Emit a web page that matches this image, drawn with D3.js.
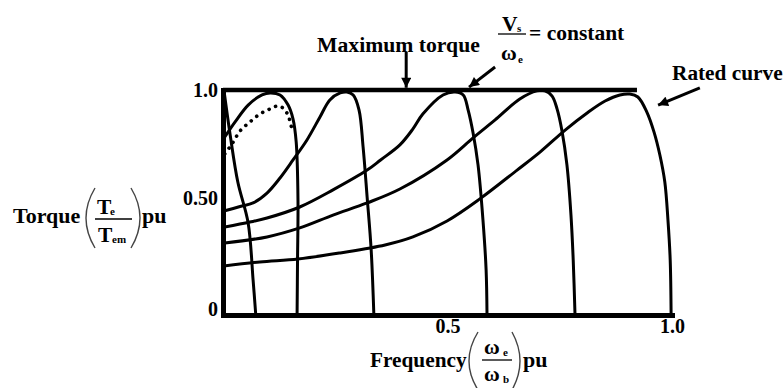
<!DOCTYPE html>
<html>
<head>
<meta charset="utf-8">
<script src="https://cdn.jsdelivr.net/npm/d3@7"></script>
<style>
  body { margin: 0; background: #fff; }
</style>
</head>
<body>
<div id="vis"></div>
<script>
// Torque-speed curves of an induction motor with Vs/we held constant
// values are [frequency pu, torque pu]

const CURVE_1 = [[0.002, 1.0], [0.016, 0.80], [0.033, 0.591], [0.056, 0.409],
                 [0.067, 0.156], [0.073, 0]];

const CURVE_2 = [[0.004, 0.791], [0.027, 0.858], [0.056, 0.933], [0.087, 0.978],
                 [0.105, 0.987], [0.127, 0.978], [0.145, 0.933], [0.156, 0.871],
                 [0.163, 0.769], [0.167, 0.511], [0.166, 0.244], [0.165, 0]];

// dotted one (stator drop not compensated)
const CURVE_2_DOTTED = [[0.004, 0.716], [0.020, 0.760], [0.038, 0.818], [0.060, 0.858],
                        [0.082, 0.893], [0.105, 0.916], [0.122, 0.929], [0.136, 0.916],
                        [0.147, 0.876], [0.154, 0.818]];

const CURVE_3 = [[0.002, 0.462], [0.038, 0.482], [0.067, 0.498], [0.098, 0.542],
                 [0.127, 0.609], [0.156, 0.689], [0.187, 0.778], [0.216, 0.880],
                 [0.238, 0.956], [0.261, 0.987], [0.276, 0.991], [0.290, 0.978],
                 [0.303, 0.911], [0.312, 0.747], [0.321, 0.524], [0.330, 0.289],
                 [0.336, 0]];

const CURVE_4 = [[0.004, 0.391], [0.060, 0.413], [0.098, 0.431], [0.171, 0.480],
                 [0.245, 0.556], [0.321, 0.644], [0.351, 0.689], [0.394, 0.756],
                 [0.423, 0.827], [0.445, 0.893], [0.490, 0.978], [0.517, 0.991],
                 [0.535, 0.978], [0.546, 0.911], [0.557, 0.809], [0.568, 0.667],
                 [0.579, 0.422], [0.586, 0.2], [0.588, 0]];

const CURVE_5 = [[0.004, 0.320], [0.098, 0.347], [0.171, 0.387], [0.245, 0.444],
                 [0.321, 0.498], [0.394, 0.560], [0.499, 0.689], [0.557, 0.787],
                 [0.606, 0.867], [0.661, 0.960], [0.699, 0.996], [0.717, 0.996],
                 [0.733, 0.973], [0.744, 0.916], [0.755, 0.818], [0.766, 0.667],
                 [0.775, 0.444], [0.780, 0.244], [0.784, 0]];

const RATED_CURVE = [[0.002, 0.218], [0.082, 0.236], [0.167, 0.249], [0.261, 0.276],
                     [0.361, 0.311], [0.423, 0.347], [0.499, 0.418], [0.572, 0.516],
                     [0.655, 0.644], [0.706, 0.724], [0.762, 0.822], [0.811, 0.898],
                     [0.851, 0.951], [0.884, 0.978], [0.906, 0.982], [0.924, 0.969],
                     [0.944, 0.902], [0.960, 0.813], [0.973, 0.711], [0.984, 0.591],
                     [0.991, 0.422], [0.996, 0.244], [0.998, 0]];

const MAX_TORQUE = [[0, 1.0], [0.922, 1.0]];

const X_TICKS = [0.5, 1.0];
const X_TICK_LABELS = ["0.5", "1.0"];
const Y_TICKS = [0, 0.5, 1.0];
const Y_TICK_LABELS = ["0", "0.50", "1.0"];

// arrows: [from, to] in data units
const ARROW_MAX = [[0.408, 1.17], [0.408, 1.01]];
const ARROW_VS = [[0.606, 1.102], [0.548, 1.013]];
const ARROW_RATED = [[1.062, 1.009], [0.969, 0.933]];

// frame
const FRAME_WIDTH = 783;
const FRAME_HEIGHT = 388;
const PLOT = {left: 223, right: 672, top: 90, bottom: 315};
const SERIF = "'Times New Roman', Times, Tinos, 'Liberation Serif', 'Noto Serif', 'DejaVu Serif', FreeSerif, serif";

const SVG = d3.select("#vis")
              .append("svg")
                .attr("width", FRAME_WIDTH)
                .attr("height", FRAME_HEIGHT)
                .style("font-family", SERIF)
                .style("font-weight", "bold");

const X_SCALE = d3.scaleLinear().domain([0, 1]).range([PLOT.left, PLOT.right]);
const Y_SCALE = d3.scaleLinear().domain([0, 1]).range([PLOT.bottom, PLOT.top]);

// arrowhead
SVG.append("defs")
   .append("marker")
     .attr("id", "head")
     .attr("markerUnits", "userSpaceOnUse")
     .attr("viewBox", "0 0 10 10")
     .attr("refX", 10)
     .attr("refY", 5)
     .attr("markerWidth", 11)
     .attr("markerHeight", 10)
     .attr("orient", "auto")
   .append("path")
     .attr("d", "M0,0L10,5L0,10z")
     .attr("fill", "#000");

const LINE = d3.line()
               .x((d) => { return X_SCALE(d[0]); })
               .y((d) => { return Y_SCALE(d[1]); })
               .curve(d3.curveCatmullRom.alpha(0.5));

// solid curves
const SOLID = [CURVE_1, CURVE_2, CURVE_3, CURVE_4, CURVE_5, RATED_CURVE];
SVG.selectAll(".curve")
   .data(SOLID)
   .enter()
   .append("path")
     .attr("class", "curve")
     .attr("d", LINE)
     .attr("fill", "none")
     .attr("stroke", "#000")
     .attr("stroke-width", 3);

SVG.append("path")
   .datum(CURVE_2_DOTTED)
   .attr("d", LINE)
   .attr("fill", "none")
   .attr("stroke", "#000")
   .attr("stroke-width", 3.6)
   .attr("stroke-linecap", "round")
   .attr("stroke-dasharray", "0.1 7");

// maximum torque line
SVG.append("path")
   .datum(MAX_TORQUE)
   .attr("d", d3.line().x((d) => X_SCALE(d[0])).y((d) => Y_SCALE(d[1])))
   .attr("stroke", "#000")
   .attr("stroke-width", 4.5);

// axes
const X_AXIS = SVG.append("g")
   .attr("transform", "translate(0," + PLOT.bottom + ")")
   .call(d3.axisBottom(X_SCALE)
           .tickValues(X_TICKS)
           .tickFormat((d, i) => X_TICK_LABELS[i])
           .tickSize(0)
           .tickSizeOuter(0)
           .tickPadding(4));

const Y_AXIS = SVG.append("g")
   .attr("transform", "translate(" + PLOT.left + ",0)")
   .call(d3.axisLeft(Y_SCALE)
           .tickValues(Y_TICKS)
           .tickFormat((d, i) => Y_TICK_LABELS[i])
           .tickSize(0)
           .tickSizeOuter(0)
           .tickPadding(5));

[X_AXIS, Y_AXIS].forEach((g) => {
  g.attr("font-family", SERIF).attr("font-size", 20);
  g.select(".domain")
   .attr("stroke-width", 5)
   .attr("stroke-linecap", "square");
});
Y_AXIS.selectAll("text")
      .attr("dy", (d) => { return d === 0 ? "0em" : (d === 0.5 ? "0.12em" : "0.32em"); });

// arrows
[ARROW_MAX, ARROW_VS, ARROW_RATED].forEach((a) => {
  SVG.append("line")
     .attr("x1", X_SCALE(a[0][0])).attr("y1", Y_SCALE(a[0][1]))
     .attr("x2", X_SCALE(a[1][0])).attr("y2", Y_SCALE(a[1][1]))
     .attr("stroke", "#000")
     .attr("stroke-width", 3)
     .attr("marker-end", "url(#head)");
});

// small helpers for the text pieces
function label(x, y, txt, size) {
  SVG.append("text")
     .attr("x", x).attr("y", y)
     .attr("font-family", SERIF)
     .attr("font-weight", "bold")
     .attr("font-size", size)
     .text(txt);
}
function bar(x1, x2, y) {
  SVG.append("line")
     .attr("x1", x1).attr("x2", x2).attr("y1", y).attr("y2", y)
     .attr("stroke", "#000").attr("stroke-width", 1.3);
}
function paren(x, yTop, yBot, bulge) {
  const MID = (yTop + yBot) / 2;
  SVG.append("path")
     .attr("d", "M" + x + "," + yTop + "Q" + (x + bulge) + "," + MID + " " + x + "," + yBot)
     .attr("fill", "none")
     .attr("stroke", "#444")
     .attr("stroke-width", 1.4);
}

// top annotations
label(317, 52, "Maximum torque", 21.7);
label(502, 31, "V", 21.5);
label(517, 32, "s", 11);
bar(498, 526, 34);
label(501, 60, "\u03c9", 21.5);
label(518, 63, "e", 11);
label(529, 40, "= constant", 21.5);
label(672, 80, "Rated curve", 21.3);

// y axis title
label(13, 223, "Torque", 22);
paren(95, 188, 248, -18);
label(97, 214, "T", 21.5);
label(110, 215, "e", 11);
bar(95, 132, 219);
label(98, 242, "T", 21.5);
label(112, 243, "em", 11);
paren(131, 188, 248, 18);
label(142, 223, "pu", 22);

// x axis title
label(370, 367, "Frequency", 21.3);
paren(478, 332, 390, -18);
label(484, 354, "\u03c9", 21.5);
label(503, 356, "e", 11);
bar(482, 512, 360);
label(484, 381, "\u03c9", 21.5);
label(503, 383, "b", 11);
paren(512, 332, 390, 16);
label(523, 367, "pu", 22);
</script>
</body>
</html>
